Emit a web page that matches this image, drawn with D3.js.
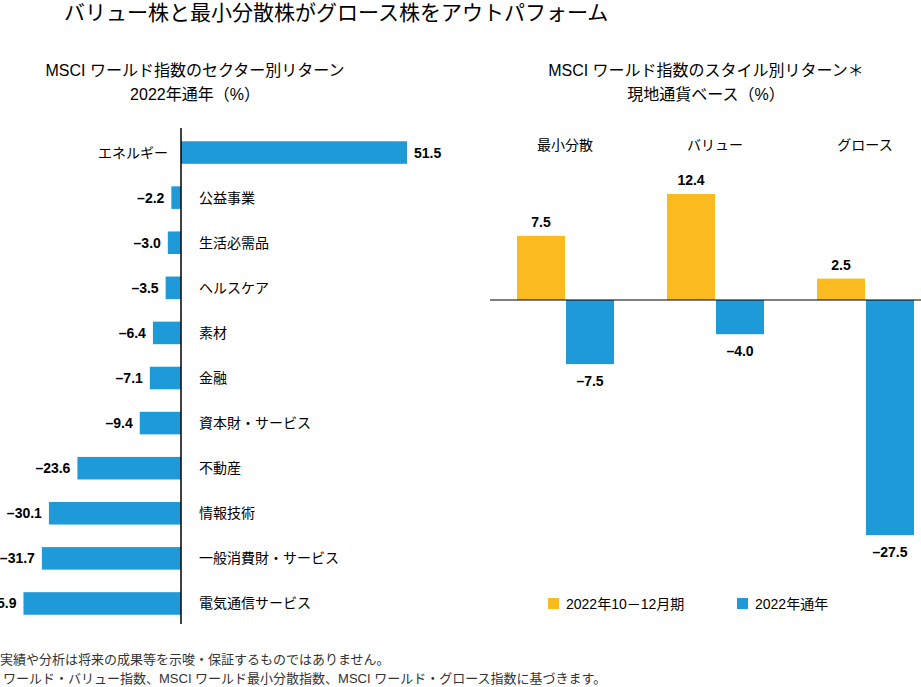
<!DOCTYPE html><html><head><meta charset="utf-8">
<script src="https://cdn.jsdelivr.net/npm/d3@7"></script>
<style>body{margin:0;background:#fff}text{font-family:"Liberation Sans","Noto Sans CJK JP",sans-serif}</style></head><body>
<svg id="c" width="921" height="687"></svg>
<script>
const sectors=["エネルギー","公益事業","生活必需品","ヘルスケア","素材","金融","資本財・サービス","不動産","情報技術","一般消費財・サービス","電気通信サービス"];
const sectorValues=[51.5,-2.2,-3.0,-3.5,-6.4,-7.1,-9.4,-23.6,-30.1,-31.7,-35.9];
const styles=["最小分散","バリュー","グロース"];
const q4Values=[7.5,12.4,2.5];
const yearValues=[-7.5,-4.0,-27.5];
const legendLabels=["2022年10－12月期","2022年通年"];
const YEL="#FBBA1E",BLU="#1E9AD8";
const svg=d3.select("#c");
const fmt=v=>v<0?"–"+Math.abs(v).toFixed(1):v.toFixed(1);
svg.append("text").attr("x",64).attr("y",20).attr("font-size",21).text("バリュー株と最小分散株がグロース株をアウトパフォーム");
[["MSCI ワールド指数のセクター別リターン",195,76],["2022年通年（%）",195,100],["MSCI ワールド指数のスタイル別リターン＊",706,76],["現地通貨ベース（%）",706,100]].forEach(d=>svg.append("text").attr("x",d[1]).attr("y",d[2]).attr("text-anchor","middle").attr("font-size",16).text(d[0]));
// left
const x=d3.scaleLinear().domain([0,51.5]).range([181,407]);
const y=d3.scaleBand().domain(sectors).range([130,626]).paddingInner(0.5).paddingOuter(0.25);
const g=svg.append("g");
sectors.forEach((s,i)=>{const v=sectorValues[i],yy=y(s),h=y.bandwidth(),c=yy+h/2;
g.append("rect").attr("x",Math.min(x(0),x(v))).attr("y",yy).attr("width",Math.abs(x(v)-x(0))).attr("height",h).attr("fill",BLU);
if(v>0){g.append("text").attr("x",x(v)+7).attr("y",c+5).attr("font-size",14).attr("font-weight","bold").text(fmt(v));
g.append("text").attr("x",x(0)-13).attr("y",c+5).attr("text-anchor","end").attr("font-size",14).text(s);}
else{g.append("text").attr("x",x(v)-7).attr("y",c+5).attr("text-anchor","end").attr("font-size",14).attr("font-weight","bold").text(fmt(v));
g.append("text").attr("x",x(0)+18).attr("y",c+5).attr("font-size",14).text(s);}
});
g.append("line").attr("x1",181).attr("x2",181).attr("y1",128).attr("y2",624).attr("stroke","#000").attr("stroke-width",1.5);
// right
const xs=d3.scaleBand().domain(styles).range([492,942]).paddingInner(0).paddingOuter(0);
const yv=d3.scaleLinear().domain([0,12.4]).range([300,194]);
const bw=48;
styles.forEach((s,i)=>{const x0=xs(s)+25;
svg.append("text").attr("x",x0+bw).attr("y",150).attr("text-anchor","middle").attr("font-size",14).text(s);
[[q4Values[i],YEL,x0],[yearValues[i],BLU,x0+bw+1]].forEach(([v,col,xx])=>{
svg.append("rect").attr("x",xx).attr("y",Math.min(yv(v),yv(0))).attr("width",bw).attr("height",Math.abs(yv(v)-yv(0))).attr("fill",col);
svg.append("text").attr("x",xx+bw/2).attr("y",v>0?yv(v)-9:yv(v)+22).attr("text-anchor","middle").attr("font-size",14).attr("font-weight","bold").text(fmt(v));});
});
svg.append("line").attr("x1",490).attr("x2",921).attr("y1",300).attr("y2",300).attr("stroke","#000").attr("stroke-width",1.2);
[[548,YEL,legendLabels[0]],[737,BLU,legendLabels[1]]].forEach(d=>{svg.append("rect").attr("x",d[0]).attr("y",598).attr("width",11).attr("height",11).attr("fill",d[1]);
svg.append("text").attr("x",d[0]+18).attr("y",609).attr("font-size",14).text(d[2]);});
svg.append("text").attr("x",0).attr("y",664).attr("font-size",13).attr("fill","#333").text("実績や分析は将来の成果等を示唆・保証するものではありません。");
svg.append("text").attr("x",3).attr("y",683).attr("font-size",13).attr("fill","#333").text("ワールド・バリュー指数、MSCI ワールド最小分散指数、MSCI ワールド・グロース指数に基づきます。");
</script></body></html>
